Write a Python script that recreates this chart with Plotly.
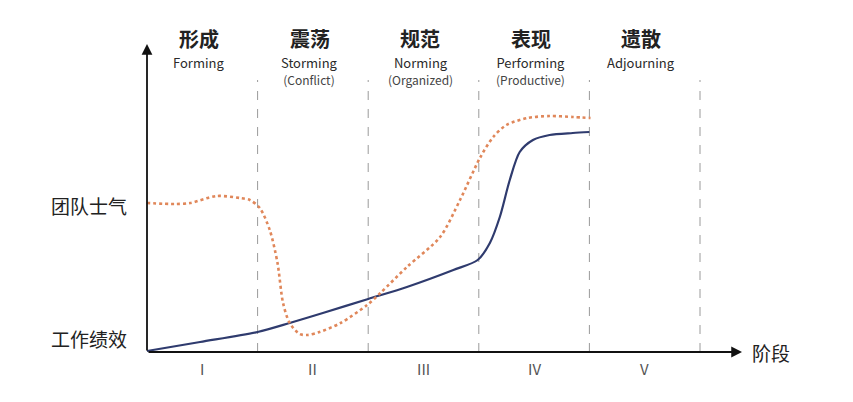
import plotly.graph_objects as go

# ---- data ----
stage_cn = ["形成", "震荡", "规范", "表现", "遗散"]
stage_en = ["Forming", "Storming", "Norming", "Performing", "Adjourning"]
stage_sub = ["", "(Conflict)", "(Organized)", "(Productive)", ""]
stage_roman = ["I", "II", "III", "IV", "V"]
stage_bounds = [1, 2, 3, 4, 5]

morale_x = [0.00, 0.25, 0.39, 0.63, 0.84, 0.93, 1.02, 1.11, 1.18, 1.23, 1.29, 1.38, 1.45,
            1.56, 1.75, 1.99, 2.11, 2.35, 2.65, 2.83, 3.01, 3.13, 3.25, 3.44, 3.64, 3.85, 4.01]
morale_y = [149, 148, 149, 156, 154, 152, 144, 122, 89, 49, 29, 18, 17,
            20, 29, 47, 59, 85, 115, 152, 194, 215, 227, 234, 236, 235, 234]

perf_x = [0.00, 0.48, 1.00, 1.29, 1.59, 2.00, 2.35, 2.77, 2.99, 3.10, 3.19, 3.28, 3.37,
          3.49, 3.64, 3.85, 4.00]
perf_y = [1, 10, 20, 29, 39, 53, 65, 82, 92, 109, 135, 172, 200,
          212, 217, 219, 220]

y_labels = ["团队士气", "工作绩效"]
y_label_pos = [147, 14]

FONT = "Noto Sans CJK SC"
W, H = 853, 402
PX = 110.6  # pixels per stage
X0 = 147
Y0 = 352

fig = go.Figure()

# dashed stage boundaries
for b in stage_bounds:
    fig.add_shape(type="line", x0=b, x1=b, y0=0, y1=272,
                  line=dict(color="#9a9a9a", width=1, dash="dash"), layer="below")

fig.add_trace(go.Scatter(x=perf_x, y=perf_y, mode="lines",
                         line=dict(color="#2f3b6e", width=2.2, shape="spline", smoothing=0.8),
                         hoverinfo="skip", showlegend=False))
fig.add_trace(go.Scatter(x=morale_x, y=morale_y, mode="lines",
                         line=dict(color="#e0875a", width=2.6, shape="spline", smoothing=0.8, dash="dot"),
                         hoverinfo="skip", showlegend=False))

# axes with arrows
fig.add_annotation(x=0, y=308, ax=0, ay=0, xref="x", yref="y", axref="x", ayref="y",
                   showarrow=True, arrowhead=2, arrowsize=1.2, arrowwidth=1.8,
                   arrowcolor="#111", text="")
fig.add_annotation(x=5.38, y=0, ax=0, ay=0, xref="x", yref="y", axref="x", ayref="y",
                   showarrow=True, arrowhead=2, arrowsize=1.2, arrowwidth=1.8,
                   arrowcolor="#111", text="")

for i in range(5):
    cx = i + 0.47
    fig.add_annotation(x=cx, y=314, text="<b>%s</b>" % stage_cn[i], showarrow=False,
                       borderpad=0, font=dict(family=FONT, size=20, color="#222"))
    txt = stage_en[i]
    if stage_sub[i]:
        txt += "<br><span style='font-size:12px;color:#444'>%s</span>" % stage_sub[i]
    fig.add_annotation(x=cx, y=300, yanchor="top", text=txt, showarrow=False,
                       borderpad=0, font=dict(family=FONT, size=13, color="#2a2a2a"))
    fig.add_annotation(x=i + 0.5, y=-16, text=stage_roman[i], showarrow=False,
                       font=dict(family=FONT, size=15, color="#555"))

for t, yy in zip(y_labels, y_label_pos):
    fig.add_annotation(x=-0.16, y=yy, text=t, showarrow=False, xanchor="right",
                       font=dict(family=FONT, size=19, color="#222"))

fig.add_annotation(x=5.45, y=0, text="阶段", showarrow=False, xanchor="left",
                   font=dict(family=FONT, size=19, color="#222"))

fig.update_xaxes(range=[-X0 / PX, (W - X0) / PX], visible=False)
fig.update_yaxes(range=[-(H - Y0), Y0], visible=False)
fig.update_layout(width=W, height=H, margin=dict(l=0, r=0, t=0, b=0),
                  plot_bgcolor="white", paper_bgcolor="white")

fig.write_html("out.html")
